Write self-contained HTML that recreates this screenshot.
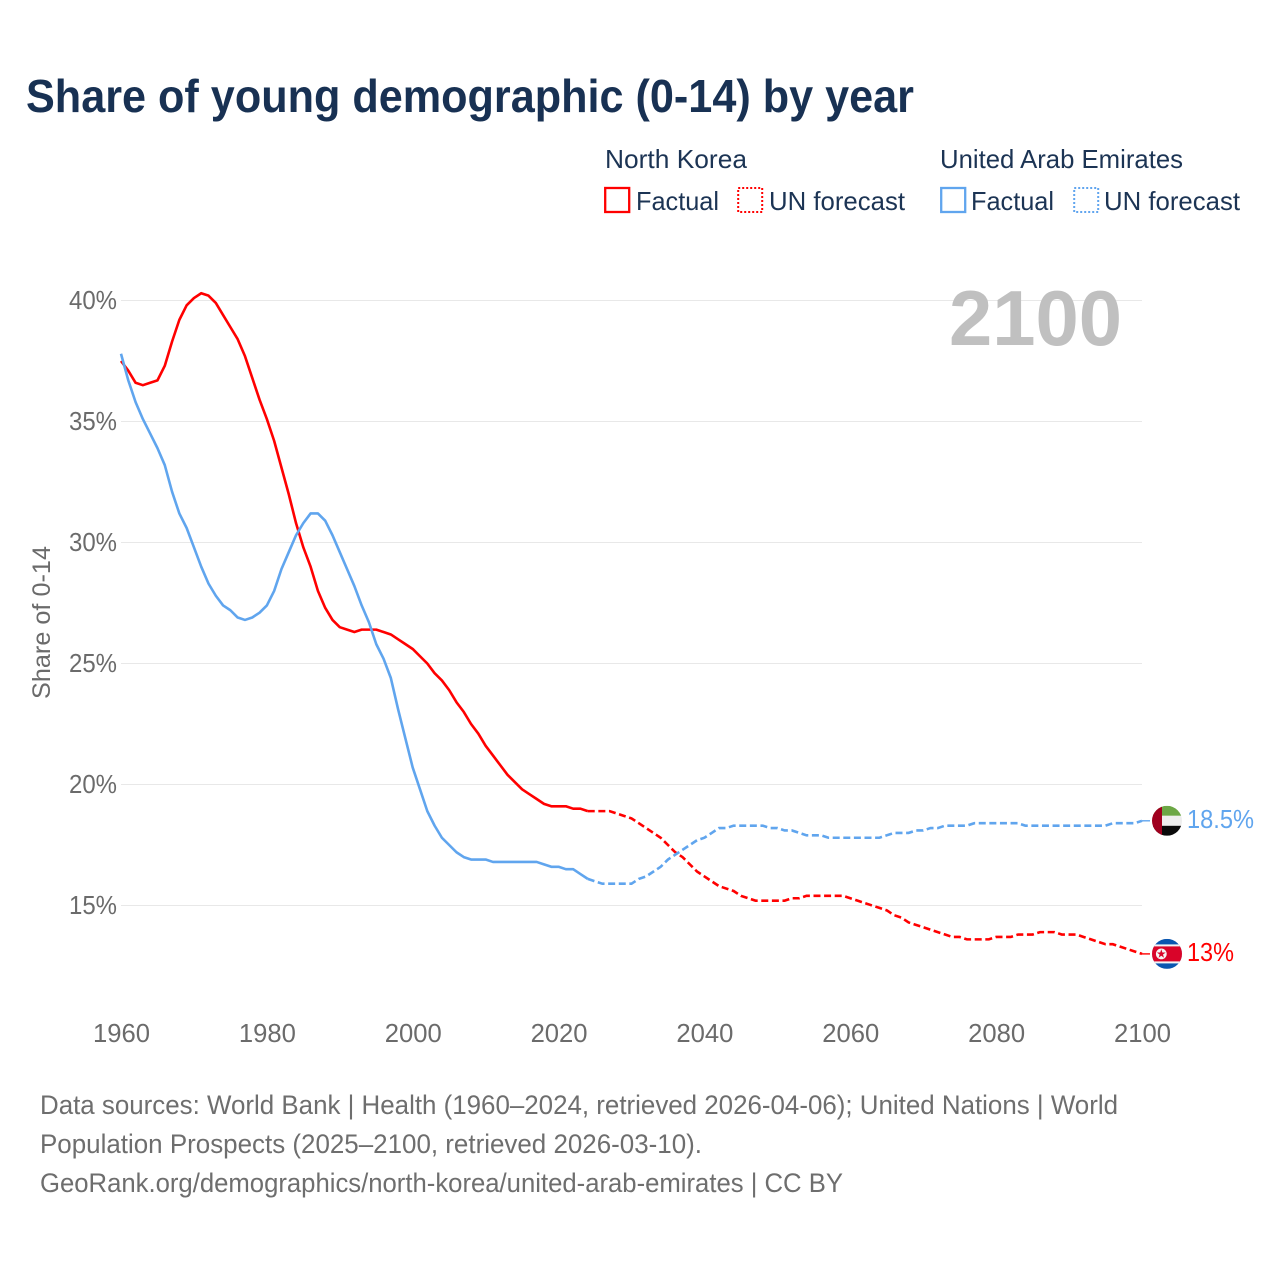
<!DOCTYPE html>
<html lang="en">
<head>
<meta charset="utf-8">
<title>Share of young demographic (0-14) by year</title>
<style>
  html, body { margin: 0; padding: 0; background: #fff; }
  svg { display: block; font-family: "Liberation Sans", "DejaVu Sans", sans-serif; }
</style>
</head>
<body>
<svg id="chart" xmlns="http://www.w3.org/2000/svg" width="1280" height="1280" viewBox="0 0 1280 1280">
  <defs>
    <clipPath id="flag-clip"><circle cx="0" cy="0" r="15"></circle></clipPath>
  </defs>
  <rect x="0" y="0" width="1280" height="1280" fill="#ffffff"></rect>

  <text x="26" y="112" font-size="46" font-weight="700" fill="#183153" textLength="888" lengthAdjust="spacingAndGlyphs">Share of young demographic (0-14) by year</text>

  <g font-size="26" fill="#1c3454">
    <text x="605" y="168" textLength="142" lengthAdjust="spacingAndGlyphs">North Korea</text>
    <rect x="605.2" y="188" width="24" height="24" fill="none" stroke="#ff0000" stroke-width="2.3"></rect>
    <text x="636" y="210" textLength="83" lengthAdjust="spacingAndGlyphs">Factual</text>
    <rect x="738.2" y="188" width="24" height="24" fill="none" stroke="#ff0000" stroke-width="2" stroke-dasharray="2 2"></rect>
    <text x="769" y="210" textLength="136" lengthAdjust="spacingAndGlyphs">UN forecast</text>

    <text x="940" y="168" textLength="243" lengthAdjust="spacingAndGlyphs">United Arab Emirates</text>
    <rect x="941.2" y="188" width="24" height="24" fill="none" stroke="#60a5ee" stroke-width="2.3"></rect>
    <text x="971" y="210" textLength="83" lengthAdjust="spacingAndGlyphs">Factual</text>
    <rect x="1074.2" y="188" width="24" height="24" fill="none" stroke="#60a5ee" stroke-width="2" stroke-dasharray="2 2"></rect>
    <text x="1104" y="210" textLength="136" lengthAdjust="spacingAndGlyphs">UN forecast</text>
  </g>

  <g id="grid"></g>
  <g id="y-ticks"></g>
  <g id="x-ticks"></g>

  <text transform="translate(50,699) rotate(-90)" font-size="25" fill="#6b6b6b" textLength="153" lengthAdjust="spacingAndGlyphs">Share of 0-14</text>

  <text x="949" y="345" font-size="78" font-weight="700" fill="#c0c0c0" textLength="173" lengthAdjust="spacingAndGlyphs">2100</text>

  <g id="series"></g>

  <g id="flag-uae" clip-path="url(#flag-clip)">
    <rect x="-15" y="-15" width="30" height="10" fill="#6ca745"></rect>
    <rect x="-15" y="-5" width="30" height="10" fill="#eeeeee"></rect>
    <rect x="-15" y="5" width="30" height="10" fill="#0a0a0a"></rect>
    <rect x="-15" y="-15" width="10" height="30" fill="#a0001e"></rect>
  </g>
  <g id="flag-nk" clip-path="url(#flag-clip)">
    <rect x="-15" y="-15" width="30" height="30" fill="#0a56b0"></rect>
    <rect x="-15" y="-9.5" width="30" height="19" fill="#f4f4f4"></rect>
    <rect x="-15" y="-7.5" width="30" height="15" fill="#d90429"></rect>
    <circle cx="-5.7" cy="0" r="5.4" fill="#f4f4f4"></circle>
    <polygon points="-5.7,-4.6 -4.6,-1.4 -1.3,-1.4 -4,0.6 -3,3.8 -5.7,1.9 -8.4,3.8 -7.4,0.6 -10.1,-1.4 -6.8,-1.4" fill="#d90429"></polygon>
  </g>
  <g id="end-labels"></g>

  <g font-size="27" fill="#6e6e6e">
    <text x="40" y="1114" textLength="1078" lengthAdjust="spacingAndGlyphs">Data sources: World Bank | Health (1960–2024, retrieved 2026-04-06); United Nations | World</text>
    <text x="40" y="1153" textLength="662" lengthAdjust="spacingAndGlyphs">Population Prospects (2025–2100, retrieved 2026-03-10).</text>
    <text x="40" y="1192" textLength="803" lengthAdjust="spacingAndGlyphs">GeoRank.org/demographics/north-korea/united-arab-emirates | CC BY</text>
  </g>
</svg>

<script>
const firstYear = 1960;
const lastFactualYear = 2024;
const xTickYears = [1960, 1980, 2000, 2020, 2040, 2060, 2080, 2100];
const yTickValues = [15, 20, 25, 30, 35, 40];
const northKoreaValues = [
  37.5,37.1,36.6,36.5,36.6,36.7,37.3,38.3,39.2,39.8,
  40.1,40.3,40.2,39.9,39.4,38.9,38.4,37.7,36.8,35.9,
  35.1,34.2,33.1,32.0,30.8,29.8,29.0,28.0,27.3,26.8,
  26.5,26.4,26.3,26.4,26.4,26.4,26.3,26.2,26.0,25.8,
  25.6,25.3,25.0,24.6,24.3,23.9,23.4,23.0,22.5,22.1,
  21.6,21.2,20.8,20.4,20.1,19.8,19.6,19.4,19.2,19.1,
  19.1,19.1,19.0,19.0,18.9,18.9,18.9,18.9,18.8,18.7,
  18.6,18.4,18.2,18.0,17.8,17.5,17.2,17.0,16.7,16.4,
  16.2,16.0,15.8,15.7,15.6,15.4,15.3,15.2,15.2,15.2,
  15.2,15.2,15.3,15.3,15.4,15.4,15.4,15.4,15.4,15.4,
  15.3,15.2,15.1,15.0,14.9,14.8,14.6,14.5,14.3,14.2,
  14.1,14.0,13.9,13.8,13.7,13.7,13.6,13.6,13.6,13.6,
  13.7,13.7,13.7,13.8,13.8,13.8,13.9,13.9,13.9,13.8,
  13.8,13.8,13.7,13.6,13.5,13.4,13.4,13.3,13.2,13.1,
  13.0
];
const uaeValues = [
  37.8,36.7,35.8,35.1,34.5,33.9,33.2,32.1,31.2,30.6,
  29.8,29.0,28.3,27.8,27.4,27.2,26.9,26.8,26.9,27.1,
  27.4,28.0,28.9,29.6,30.3,30.8,31.2,31.2,30.9,30.3,
  29.6,28.9,28.2,27.4,26.7,25.8,25.2,24.4,23.1,21.9,
  20.7,19.8,18.9,18.3,17.8,17.5,17.2,17.0,16.9,16.9,
  16.9,16.8,16.8,16.8,16.8,16.8,16.8,16.8,16.7,16.6,
  16.6,16.5,16.5,16.3,16.1,16.0,15.9,15.9,15.9,15.9,
  15.9,16.1,16.2,16.4,16.6,16.9,17.1,17.3,17.5,17.7,
  17.8,18.0,18.2,18.2,18.3,18.3,18.3,18.3,18.3,18.2,
  18.2,18.1,18.1,18.0,17.9,17.9,17.9,17.8,17.8,17.8,
  17.8,17.8,17.8,17.8,17.8,17.9,18.0,18.0,18.0,18.1,
  18.1,18.2,18.2,18.3,18.3,18.3,18.3,18.4,18.4,18.4,
  18.4,18.4,18.4,18.4,18.3,18.3,18.3,18.3,18.3,18.3,
  18.3,18.3,18.3,18.3,18.3,18.3,18.4,18.4,18.4,18.4,
  18.5
];

const NS = 'http://www.w3.org/2000/svg';
const plotLeft = 121, plotRight = 1142;
const RED = '#ff0000', BLUE = '#60a5ee';

function xScale(year) { return plotLeft + (year - 1960) * (plotRight - plotLeft) / 140; }
function yScale(value) { return 300.5 + (40 - value) * 24.2; }
function make(tag, parent) {
  const el = document.createElementNS(NS, tag);
  parent.appendChild(el);
  return el;
}
function pathFor(values, startIndex, endIndex) {
  let d = '';
  for (let i = startIndex; i <= endIndex; i++) {
    d += (i === startIndex ? 'M' : 'L') + xScale(firstYear + i).toFixed(2) + ' ' + yScale(values[i]).toFixed(2);
  }
  return d;
}

const gridGroup = document.getElementById('grid');
const yTickGroup = document.getElementById('y-ticks');
yTickValues.forEach(function (v) {
  const line = make('line', gridGroup);
  
  
  line.setAttribute('x1', plotLeft);
  line.setAttribute('x2', plotRight);
  line.setAttribute('y1', yScale(v));
  line.setAttribute('y2', yScale(v));
  line.setAttribute('stroke', '#e8e8e8');
  line.setAttribute('stroke-width', '1');

  const label = make('text', yTickGroup);
  
  
  label.setAttribute('x', plotLeft - 4);
  label.setAttribute('y', yScale(v) + 8.5);
  label.setAttribute('text-anchor', 'end');
  label.setAttribute('font-size', '26');
  label.setAttribute('fill', '#6b6b6b');
  label.setAttribute('textLength', '48');
  label.setAttribute('lengthAdjust', 'spacingAndGlyphs');
  label.textContent = v + '%';
});

const xTickGroup = document.getElementById('x-ticks');
xTickYears.forEach(function (yr) {
  const label = make('text', xTickGroup);
  
  
  label.setAttribute('x', xScale(yr) + 0.5);
  label.setAttribute('y', 1042);
  label.setAttribute('text-anchor', 'middle');
  label.setAttribute('font-size', '26');
  label.setAttribute('fill', '#6b6b6b');
  label.setAttribute('textLength', '57');
  label.setAttribute('lengthAdjust', 'spacingAndGlyphs');
  label.textContent = String(yr);
});

const seriesGroup = document.getElementById('series');
const flagX = 1167;
const splitIndex = lastFactualYear - firstYear;

function drawSeries(values, color, key) {
  const lastIndex = values.length - 1;

  const factual = make('path', seriesGroup);
  
  
  factual.setAttribute('d', pathFor(values, 0, splitIndex));
  factual.setAttribute('fill', 'none');
  factual.setAttribute('stroke', color);
  factual.setAttribute('stroke-width', '2.6');
  factual.setAttribute('stroke-linejoin', 'round');

  const forecast = make('path', seriesGroup);
  
  
  forecast.setAttribute('d', pathFor(values, splitIndex, lastIndex));
  forecast.setAttribute('fill', 'none');
  forecast.setAttribute('stroke', color);
  forecast.setAttribute('stroke-width', '2.6');
  forecast.setAttribute('stroke-dasharray', '7 3.6');

  const connector = make('line', seriesGroup);
  
  
  connector.setAttribute('x1', xScale(firstYear + lastIndex));
  connector.setAttribute('x2', flagX - 17);
  connector.setAttribute('y1', yScale(values[lastIndex]));
  connector.setAttribute('y2', yScale(values[lastIndex]));
  connector.setAttribute('stroke', color);
  connector.setAttribute('stroke-width', '1.4');
}
drawSeries(northKoreaValues, RED, 'north-korea');
drawSeries(uaeValues, BLUE, 'uae');

const uaeLast = uaeValues[uaeValues.length - 1];
const nkLast = northKoreaValues[northKoreaValues.length - 1];
document.getElementById('flag-uae').setAttribute('transform', 'translate(' + flagX + ',' + yScale(uaeLast) + ')');
document.getElementById('flag-nk').setAttribute('transform', 'translate(' + flagX + ',' + yScale(nkLast) + ')');

const endGroup = document.getElementById('end-labels');
const uaeEndLabel = make('text', endGroup);


uaeEndLabel.setAttribute('x', 1187);
uaeEndLabel.setAttribute('y', yScale(uaeLast) + 7);
uaeEndLabel.setAttribute('font-size', '26');
uaeEndLabel.setAttribute('fill', BLUE);
uaeEndLabel.setAttribute('textLength', '67');
uaeEndLabel.setAttribute('lengthAdjust', 'spacingAndGlyphs');
uaeEndLabel.textContent = uaeLast + '%';

const nkEndLabel = make('text', endGroup);


nkEndLabel.setAttribute('x', 1187);
nkEndLabel.setAttribute('y', yScale(nkLast) + 7);
nkEndLabel.setAttribute('font-size', '26');
nkEndLabel.setAttribute('fill', RED);
nkEndLabel.setAttribute('textLength', '47');
nkEndLabel.setAttribute('lengthAdjust', 'spacingAndGlyphs');
nkEndLabel.textContent = nkLast + '%';
</script>
</body>
</html>
